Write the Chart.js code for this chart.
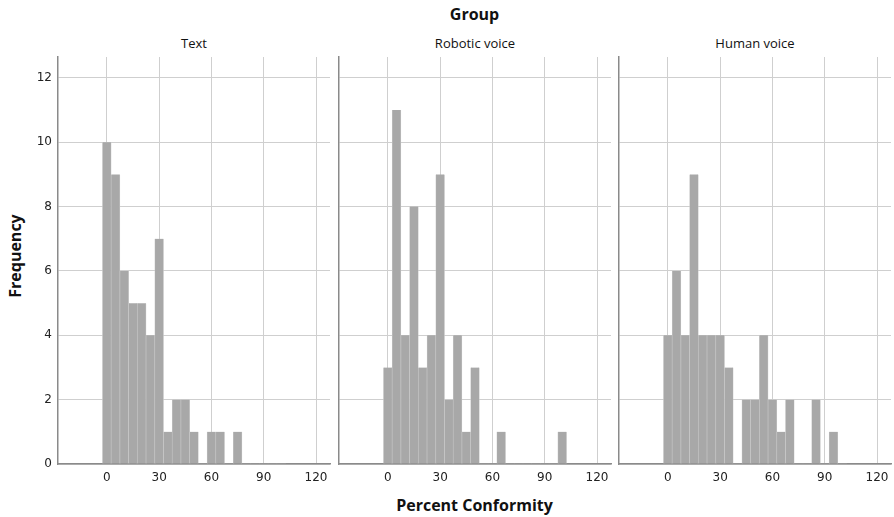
<!DOCTYPE html>
<html>
<head>
<meta charset="utf-8">
<script src="https://cdn.jsdelivr.net/npm/chart.js@4"></script>
<style>
	body { margin: 0; background: #fff; }
	#wrap { position: relative; width: 894px; height: 517px; font-family: "Open Sans", sans-serif; color: #111; }
	.lbl { position: absolute; white-space: nowrap; }
	canvas { position: absolute; }
</style>
</head>
<body>
<div id="wrap">
	<div class="lbl" style="left:0;width:949px;top:3px;text-align:center;font-weight:bold;font-size:16px;">Group</div>
	<div class="lbl" id="t0" style="top:34px;font-size:13px;"></div>
	<div class="lbl" id="t1" style="top:34px;font-size:13px;"></div>
	<div class="lbl" id="t2" style="top:34px;font-size:13px;"></div>
	<div class="lbl" style="left:-35px;top:245px;width:100px;text-align:center;font-weight:bold;font-size:16px;transform:rotate(-90deg);">Frequency</div>
	<div class="lbl" style="left:0;width:949px;top:494px;text-align:center;font-weight:bold;font-size:16px;">Percent Conformity</div>
	<canvas id="c0"></canvas>
	<canvas id="c1"></canvas>
	<canvas id="c2"></canvas>
</div>
<script>
// bin centres (width 5)
var bins = [0, 5, 10, 15, 20, 25, 30, 35, 40, 45, 50, 55, 60, 65, 70, 75, 80, 85, 90, 95, 100]
var groups = ['Text', 'Robotic voice', 'Human voice']
var textCounts   = [10, 9, 6, 5, 5, 4, 7, 1, 2, 2, 1, 0, 1, 1, 0, 1, 0, 0, 0, 0, 0]
var roboticCounts = [3, 11, 4, 8, 3, 4, 9, 2, 4, 1, 3, 0, 0, 1, 0, 0, 0, 0, 0, 0, 1]
var humanCounts  = [4, 6, 4, 9, 4, 4, 4, 3, 0, 2, 2, 4, 2, 1, 2, 0, 0, 2, 0, 1, 0]
var xTicks = [0, 30, 60, 90, 120]
var yTicks = [0, 2, 4, 6, 8, 10, 12]

var panels = [
	{counts: textCounts,    left: 0,   plotLeft: 58,  plotRight: 330},
	{counts: roboticCounts, left: 334, plotLeft: 339, plotRight: 611},
	{counts: humanCounts,   left: 615, plotLeft: 619, plotRight: 891}
]
var canvasTop = 50, plotTop = 57, plotBottom = 464, canvasH = 440

panels.forEach(function(p, i) {
	var t = document.getElementById('t' + i)
	t.textContent = groups[i]
	t.style.left = ((p.plotLeft + p.plotRight) / 2 - 100) + 'px'
	t.style.width = '200px'
	t.style.textAlign = 'center'

	var cv = document.getElementById('c' + i)
	var w = p.plotRight - p.left + 4
	cv.width = w
	cv.height = canvasH
	cv.style.left = p.left + 'px'
	cv.style.top = canvasTop + 'px'

	var yW = p.plotLeft - p.left
	new Chart(cv, {
		type: 'bar',
		data: {
			datasets: [{
				data: bins.map(function(b, k) { return {x: b, y: p.counts[k]} }),
				backgroundColor: '#a8a8a8',
				borderColor: '#cacaca',
				borderWidth: function(ctx) { return ctx.raw && ctx.raw.y > 0 ? {left: 0.6, right: 0.6, top: 0, bottom: 0} : 0 },
				barPercentage: 1,
				categoryPercentage: 1
			}]
		},
		options: {
			responsive: false,
			animation: false,
			layout: {padding: {top: plotTop - canvasTop, right: 4, left: 0, bottom: 0}},
			plugins: {legend: {display: false}, tooltip: {enabled: false}},
			scales: {
				x: {
					type: 'linear',
					offset: false,
					min: -28, max: 128,
					afterBuildTicks: function(s) { s.ticks = xTicks.map(function(v) { return {value: v} }) },
					afterFit: function(s) {
						s.height = canvasTop + canvasH - plotBottom
						s.paddingLeft = 0
						s.paddingRight = 0
					},
					grid: {color: '#cfcfcf', lineWidth: 1, drawTicks: false, offset: false},
					border: {color: '#8a8a8a', width: 1.5},
					ticks: {color: '#222', font: {family: 'DejaVu Sans', size: 12}, padding: 7, maxRotation: 0}
				},
				y: {
					min: 0, max: 12.65,
					afterBuildTicks: function(s) { s.ticks = yTicks.map(function(v) { return {value: v} }) },
					afterFit: function(s) {
						s.width = yW
						s.paddingTop = 0
						s.paddingBottom = 0
					},
					grid: {color: '#cfcfcf', lineWidth: 1, drawTicks: false},
					border: {color: '#8a8a8a', width: 1.5},
					ticks: {display: i == 0, color: '#222', font: {family: 'DejaVu Sans', size: 12}, padding: 6}
				}
			}
		}
	})
})
</script>
</body>
</html>
